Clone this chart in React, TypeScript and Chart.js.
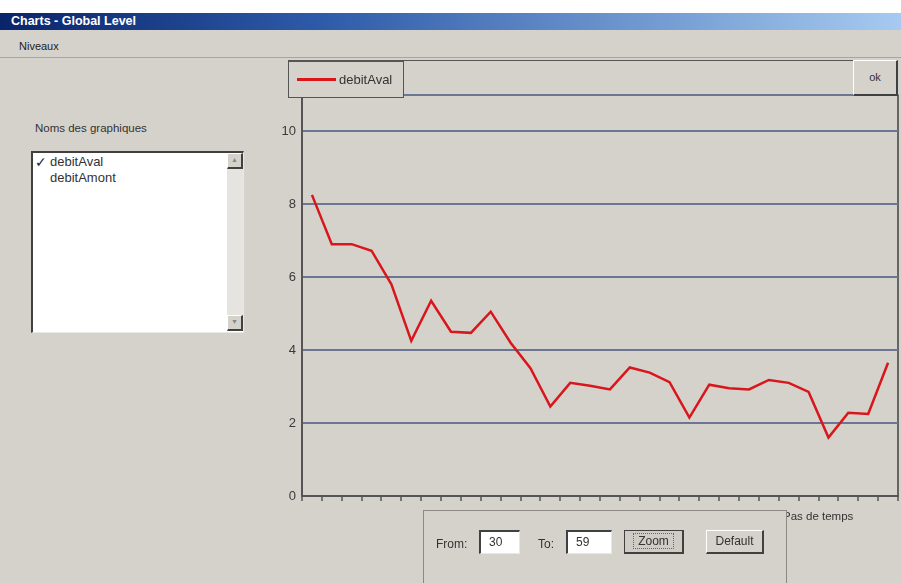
import React, { useEffect, useRef } from "react";
import { Chart, registerables } from "chart.js";

Chart.register(...registerables);

const categories: string[] = [
  "30", "31", "32", "33", "34", "35", "36", "37", "38", "39",
  "40", "41", "42", "43", "44", "45", "46", "47", "48", "49",
  "50", "51", "52", "53", "54", "55", "56", "57", "58", "59",
];

const debitAval: number[] = [
  8.25, 6.9, 6.9, 6.72, 5.8, 4.25, 5.35, 4.5, 4.47, 5.05,
  4.2, 3.5, 2.45, 3.1, 3.02, 2.92, 3.52, 3.38, 3.12, 2.15,
  3.05, 2.95, 2.92, 3.18, 3.1, 2.85, 1.6, 2.28, 2.25, 3.65,
];

const yTickValues: number[] = [0, 2, 4, 6, 8, 10];
const seriesNames: string[] = ["debitAval", "debitAmont"];

const FONT = "'Liberation Sans', Arial, sans-serif";
const BG = "#d5d2cc";

export default function App() {
  const canvasRef = useRef<HTMLCanvasElement | null>(null);

  useEffect(() => {
    if (!canvasRef.current) return;
    const chart = new Chart(canvasRef.current, {
      type: "line",
      data: {
        labels: categories,
        datasets: [
          {
            label: seriesNames[0],
            data: debitAval,
            borderColor: "#d8161c",
            borderWidth: 2.5,
            pointRadius: 0,
            tension: 0,
            fill: false,
          },
        ],
      },
      options: {
        animation: false,
        responsive: false,
        maintainAspectRatio: false,
        devicePixelRatio: 1,
        layout: { padding: { top: 14.5, right: 3, left: 0, bottom: 0 } },
        plugins: { legend: { display: false }, tooltip: { enabled: false } },
        scales: {
          x: {
            type: "category",
            offset: true,
            afterFit: (s: any) => {
              s.height = 44;
            },
            ticks: { display: false },
            grid: {
              offset: true,
              drawOnChartArea: true,
              drawTicks: true,
              tickLength: 5,
              tickWidth: 1.5,
              tickColor: "#555555",
              lineWidth: 2,
              color: (ctx: any) =>
                ctx.type === "scale" || ctx.index === categories.length
                  ? "#666666"
                  : "rgba(0,0,0,0)",
            },
            border: { display: true, color: "#555555", width: 2 },
          },
          y: {
            min: 0,
            max: 11,
            afterFit: (s: any) => {
              s.width = 42;
            },
            afterBuildTicks: (s: any) => {
              s.ticks = [...yTickValues, 11].map((v) => ({ value: v }));
            },
            ticks: {
              color: "#3a3a3a",
              font: { family: FONT, size: 13 },
              padding: 6,
              callback: (v: any) =>
                yTickValues.includes(Number(v)) ? String(v) : "",
            },
            grid: {
              drawTicks: false,
              color: "#6b7694",
              lineWidth: 2,
            },
            border: { display: true, color: "#555555", width: 2 },
          },
        },
      },
    });
    return () => chart.destroy();
  }, []);

  const abs = (l: number, t: number, w?: number, h?: number): React.CSSProperties => ({
    position: "absolute",
    left: l,
    top: t,
    ...(w !== undefined ? { width: w } : {}),
    ...(h !== undefined ? { height: h } : {}),
  });

  const raised: React.CSSProperties = {
    boxSizing: "border-box",
    background: BG,
    borderTop: "1px solid #ffffff",
    borderLeft: "1px solid #ffffff",
    borderRight: "2px solid #404040",
    borderBottom: "2px solid #404040",
  };
  const sunken: React.CSSProperties = {
    boxSizing: "border-box",
    background: "#ffffff",
    borderTop: "2px solid #404040",
    borderLeft: "2px solid #404040",
    borderRight: "1px solid #e8e8e8",
    borderBottom: "1px solid #e8e8e8",
  };

  return (
    <div
      style={{
        position: "fixed",
        left: 0,
        top: 0,
        width: 901,
        height: 583,
        overflow: "hidden",
        background: "#ffffff",
        fontFamily: FONT,
        color: "#222",
      }}
    >
      {/* title bar */}
      <div
        style={{
          ...abs(0, 13, 901, 17),
          background: "linear-gradient(to right, #0a246a 0%, #2d5aa8 35%, #a6caf0 100%)",
        }}
      />
      <div
        style={{
          ...abs(11, 13, 300, 17),
          color: "#ffffff",
          fontWeight: "bold",
          fontSize: 12.5,
          lineHeight: "17px",
        }}
      >
        Charts - Global Level
      </div>
      {/* body */}
      <div style={{ ...abs(0, 30, 901, 553), background: BG }} />
      <div style={{ ...abs(0, 57, 901, 1), background: "#a8a59f" }} />
      <div style={{ ...abs(19, 38, 100, 16), fontSize: 11, lineHeight: "16px" }}>Niveaux</div>

      {/* left list */}
      <div style={{ ...abs(35, 121, 200, 14), fontSize: 11.5, lineHeight: "14px", color: "#333" }}>
        Noms des graphiques
      </div>
      <div style={{ ...abs(31, 151, 213, 182), ...sunken }}>
        <div style={{ ...abs(194, 0, 16, 178), background: "#e6e4e0" }} />
        <div style={{ ...abs(194, 0, 16, 16), ...raised, fontSize: 7, color: "#888", textAlign: "center", lineHeight: "12px" }}>▲</div>
        <div style={{ ...abs(194, 162, 16, 16), ...raised, fontSize: 7, color: "#888", textAlign: "center", lineHeight: "12px" }}>▼</div>
        <div style={{ ...abs(2, 1, 16, 16), fontSize: 14, lineHeight: "16px", color: "#222" }}>✓</div>
        <div style={{ ...abs(17, 1, 150, 16), fontSize: 13, lineHeight: "16px", color: "#333" }}>
          {seriesNames[0]}
        </div>
        <div style={{ ...abs(17, 17, 150, 16), fontSize: 13, lineHeight: "16px", color: "#333" }}>
          {seriesNames[1]}
        </div>
      </div>

      {/* chart panel top border */}
      <div style={{ ...abs(288, 60, 610, 1), background: "#555" }} />

      {/* chart */}
      <canvas
        ref={canvasRef}
        width={641}
        height={460}
        style={{ ...abs(260, 80, 641, 460) }}
      />

      {/* legend box */}
      <div
        style={{
          ...abs(288, 61, 116, 37),
          boxSizing: "border-box",
          background: BG,
          border: "1px solid #555",
        }}
      >
        <div style={{ ...abs(8, 16, 39, 2.5), background: "#d8161c" }} />
        <div style={{ ...abs(50, 9, 70, 18), fontSize: 13, lineHeight: "18px", color: "#333" }}>
          {seriesNames[0]}
        </div>
      </div>

      {/* ok button */}
      <div
        style={{
          ...abs(853, 60, 45, 36),
          ...raised,
          fontSize: 11,
          lineHeight: "33px",
          textAlign: "center",
          color: "#333",
        }}
      >
        ok
      </div>

      {/* x axis title */}
      <div style={{ ...abs(783, 509, 100, 14), fontSize: 11.5, lineHeight: "14px", color: "#333" }}>
        Pas de temps
      </div>

      {/* zoom panel */}
      <div
        style={{
          ...abs(423, 510, 364, 80),
          boxSizing: "border-box",
          background: BG,
          borderTop: "1px solid #8c8983",
          borderLeft: "1px solid #8c8983",
          borderRight: "1px solid #8c8983",
        }}
      >
        <div style={{ ...abs(12, 26, 40, 14), fontSize: 12, lineHeight: "14px", color: "#333" }}>From:</div>
        <div style={{ ...abs(55, 19, 41, 24), ...sunken, fontSize: 12, lineHeight: "20px", paddingLeft: 8, color: "#333" }}>30</div>
        <div style={{ ...abs(114, 26, 30, 14), fontSize: 12, lineHeight: "14px", color: "#333" }}>To:</div>
        <div style={{ ...abs(142, 19, 46, 24), ...sunken, fontSize: 12, lineHeight: "20px", paddingLeft: 8, color: "#333" }}>59</div>
        <div
          style={{
            ...abs(200, 19, 60, 24),
            ...raised,
            borderTop: "1px solid #404040",
            borderLeft: "1px solid #404040",
            background: "#cfccc6",
            fontSize: 12,
            lineHeight: "21px",
            textAlign: "center",
            color: "#333",
          }}
        >
          <span style={{ border: "1px dotted #666", padding: "0 4px" }}>Zoom</span>
        </div>
        <div
          style={{
            ...abs(282, 19, 58, 24),
            ...raised,
            fontSize: 12,
            lineHeight: "21px",
            textAlign: "center",
            color: "#333",
          }}
        >
          Default
        </div>
      </div>
    </div>
  );
}
